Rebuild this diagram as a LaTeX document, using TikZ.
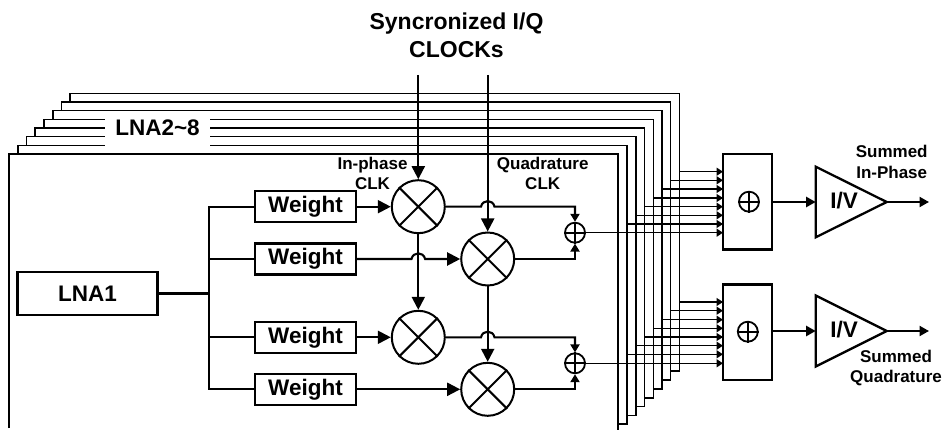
\documentclass[tikz,border=0pt]{standalone}
\usepackage{fontspec}
\setmainfont{Liberation Sans}
\usetikzlibrary{arrows.meta}
\tikzset{
  x=1pt,y=-1pt,
  frameline/.style={line width=1.35pt,line join=miter},
  wire/.style={line width=2.1pt},
  thinwire/.style={line width=1.4pt},
  bigtip/.style={-{Triangle[length=13pt,width=13pt]}},
  midtip/.style={-{Triangle[length=9.5pt,width=10pt]}},
  smalltip/.style={-{Triangle[length=8pt,width=9pt]}},
  bustip/.style={-{Triangle[length=6.5pt,width=8pt]}},
  blockbox/.style={draw,line width=2.3pt,inner sep=0pt,font=\fontsize{22.5}{26}\selectfont\bfseries},
  mixer/.style={draw,circle,line width=2pt,minimum size=53pt,inner sep=0pt},
  smallsum/.style={draw,circle,line width=1.8pt,minimum size=20pt,inner sep=0pt},
  sumbox/.style={draw,line width=2.3pt,minimum width=49pt,minimum height=95.5pt,inner sep=0pt},
  amp/.style={draw,line width=2.3pt,line join=miter},
  label/.style={inner sep=0pt,anchor=base,align=center,font=\fontsize{17}{20.6}\selectfont\bfseries},
  biglabel/.style={inner sep=0pt,anchor=base,align=center,font=\fontsize{23}{27.7}\selectfont\bfseries},
  hoplabel/.style={inner sep=0pt,anchor=base,font=\fontsize{22.5}{26}\selectfont\bfseries},
}
\newcommand{\xmark}[1]{\draw[line width=2pt] (#1.45)--(#1.225) (#1.135)--(#1.315);}
\newcommand{\pmark}[1]{\draw[line width=1.8pt] (#1.north)--(#1.south) (#1.west)--(#1.east);}
\begin{document}
\begin{tikzpicture}
\useasboundingbox (0,0) rectangle (945,430);
% stacked LNA frames
\draw[frameline] (9,428)--(9,154)--(618,154)--(618,430);
\foreach \xl/\yp/\yt/\xr/\xp/\yb in {18/154/145.5/627/618/424,26.5/145.5/136.7/636/627/415.5,35/136.7/128/644.7/636/406.7,44/128/119.3/653.3/644.7/398,53/119.3/110.7/662/653.3/389,61.5/110.7/102/670.7/662/380,70/102/93.3/679.3/670.7/371}
  \draw[frameline] (\xl,\yp)--(\xl,\yt)--(\xr,\yt)--(\xr,\yb)--(\xp,\yb);
\fill[white] (105,111.3) rectangle (210,146.2);
\node[hoplabel] (lnas) at (157.5,135.6) {LNA2\char`\~8};
% blocks
\node[blockbox,minimum width=140pt,minimum height=43.6pt] (lna) at (87.5,293.5) {LNA1};
\node[blockbox,minimum width=101pt,minimum height=31pt] (w1) at (305.5,206.7) {Weight};
\node[blockbox,minimum width=101pt,minimum height=31pt] (w2) at (305.5,259) {Weight};
\node[blockbox,minimum width=101pt,minimum height=31pt] (w3) at (305.5,337.3) {Weight};
\node[blockbox,minimum width=101pt,minimum height=31pt] (w4) at (305.5,389.3) {Weight};
\node[mixer] (m1) at (418.3,206.7) {};
\node[mixer] (m2) at (487.7,259) {};
\node[mixer] (m3) at (418.3,337.3) {};
\node[mixer] (m4) at (487.7,389.3) {};
\xmark{m1}\xmark{m2}\xmark{m3}\xmark{m4}
\node[smallsum] (s1) at (575,232.7) {};
\node[smallsum] (s2) at (575,363.3) {};
\pmark{s1}\pmark{s2}
\node[sumbox] (b1) at (747.8,201.7) {};
\node[sumbox] (b2) at (747.8,332.2) {};
\node[smallsum] (p1) at (749,201.7) {};
\node[smallsum] (p2) at (747.8,331.7) {};
\pmark{p1}\pmark{p2}
% amplifiers
\draw[amp] (815.7,166.7)--(815.7,237.3)--(886.7,202)--cycle;
\draw[amp] (815.7,295.5)--(815.7,366.5)--(886.7,331)--cycle;
\coordinate (a1in) at (815.7,202);
\coordinate (a1out) at (886.7,202);
\coordinate (a2in) at (815.7,331);
\coordinate (a2out) at (886.7,331);
\coordinate (o1) at (929,202);
\coordinate (o2) at (929,331);
% LNA fan-out
\coordinate (busT) at (209,206.7);
\coordinate (busB) at (209,389.3);
\draw[wire] (lna.east)--(lna.east -| busT);
\draw[wire,line join=miter] (w1.west)--(busT)--(busB)--(w4.west);
\draw[wire] (w2.west)--(w2.west -| busT);
\draw[wire] (w3.west)--(w3.west -| busT);
% weight to mixer
\draw[wire,bigtip] (w1.east)--(m1.west);
\draw[wire,bigtip] (w3.east)--(m3.west);
\draw[wire,bigtip] (w2.east)--(411.5,259) .. controls (413,251.5) and (423.6,251.5) .. (425.1,259)--(m2.west);
\draw[wire,bigtip] (w4.east)--(m4.west);
% clocks
\coordinate (ci) at (418.3,75);
\coordinate (cq) at (487.7,75);
\draw[wire,bigtip] (ci)--(m1.north);
\draw[wire,bigtip] (cq)--(m2.north);
\draw[wire,bigtip] (m1.south)--(m3.north);
\draw[wire,bigtip] (m2.south)--(m4.north);
% mixer outputs
\draw[wire,smalltip] (m1.east)--(481,206.7) .. controls (482.5,199.2) and (493,199.2) .. (494.5,206.7)--(575,206.7)--(s1.north);
\draw[wire,smalltip] (m2.east)--(575,259)--(s1.south);
\draw[wire,smalltip] (m3.east)--(481,337.3) .. controls (482.5,329.8) and (493,329.8) .. (494.5,337.3)--(575,337.3)--(s2.north);
\draw[wire,smalltip] (m4.east)--(575,389.3)--(s2.south);
% bus into summers
\foreach \xs/\ys in {679.3/171.7,670.7/180.3,662/189,653.3/198,644.7/206.7,636/215.3,627/224}
  \draw[thinwire,bustip] (\xs,\ys)--(723,\ys);
\foreach \xs/\ys in {679.3/302,670.7/310.7,662/319.7,653.3/328.3,644.7/337,636/345.7,627/354.3}
  \draw[thinwire,bustip] (\xs,\ys)--(723,\ys);
\draw[thinwire,bustip] (s1.east)--(723,232.7);
\draw[thinwire,bustip] (s2.east)--(723,363.3);
% outputs
\draw[wire,midtip] (b1.east |- a1in)--(a1in);
\draw[wire,midtip] (b2.east |- a2in)--(a2in);
\draw[wire,midtip] (a1out)--(o1);
\draw[wire,midtip] (a2out)--(o2);
% labels
\node[biglabel] (title) at (456.5,57.7) {Syncronized I/Q\\CLOCKs};
\node[label] (inph) at (372.5,190) {In-phase\\CLK};
\node[label] (quad) at (542.7,190) {Quadrature\\CLK};
\node[label] (sumi) at (891.7,178.3) {Summed\\In-Phase};
\node[label] (sumq) at (896,382.7) {Summed\\Quadrature};
\node[hoplabel] (iv1) at (844,209) {I/V};
\node[hoplabel] (iv2) at (844,337.7) {I/V};
\end{tikzpicture}
\end{document}
